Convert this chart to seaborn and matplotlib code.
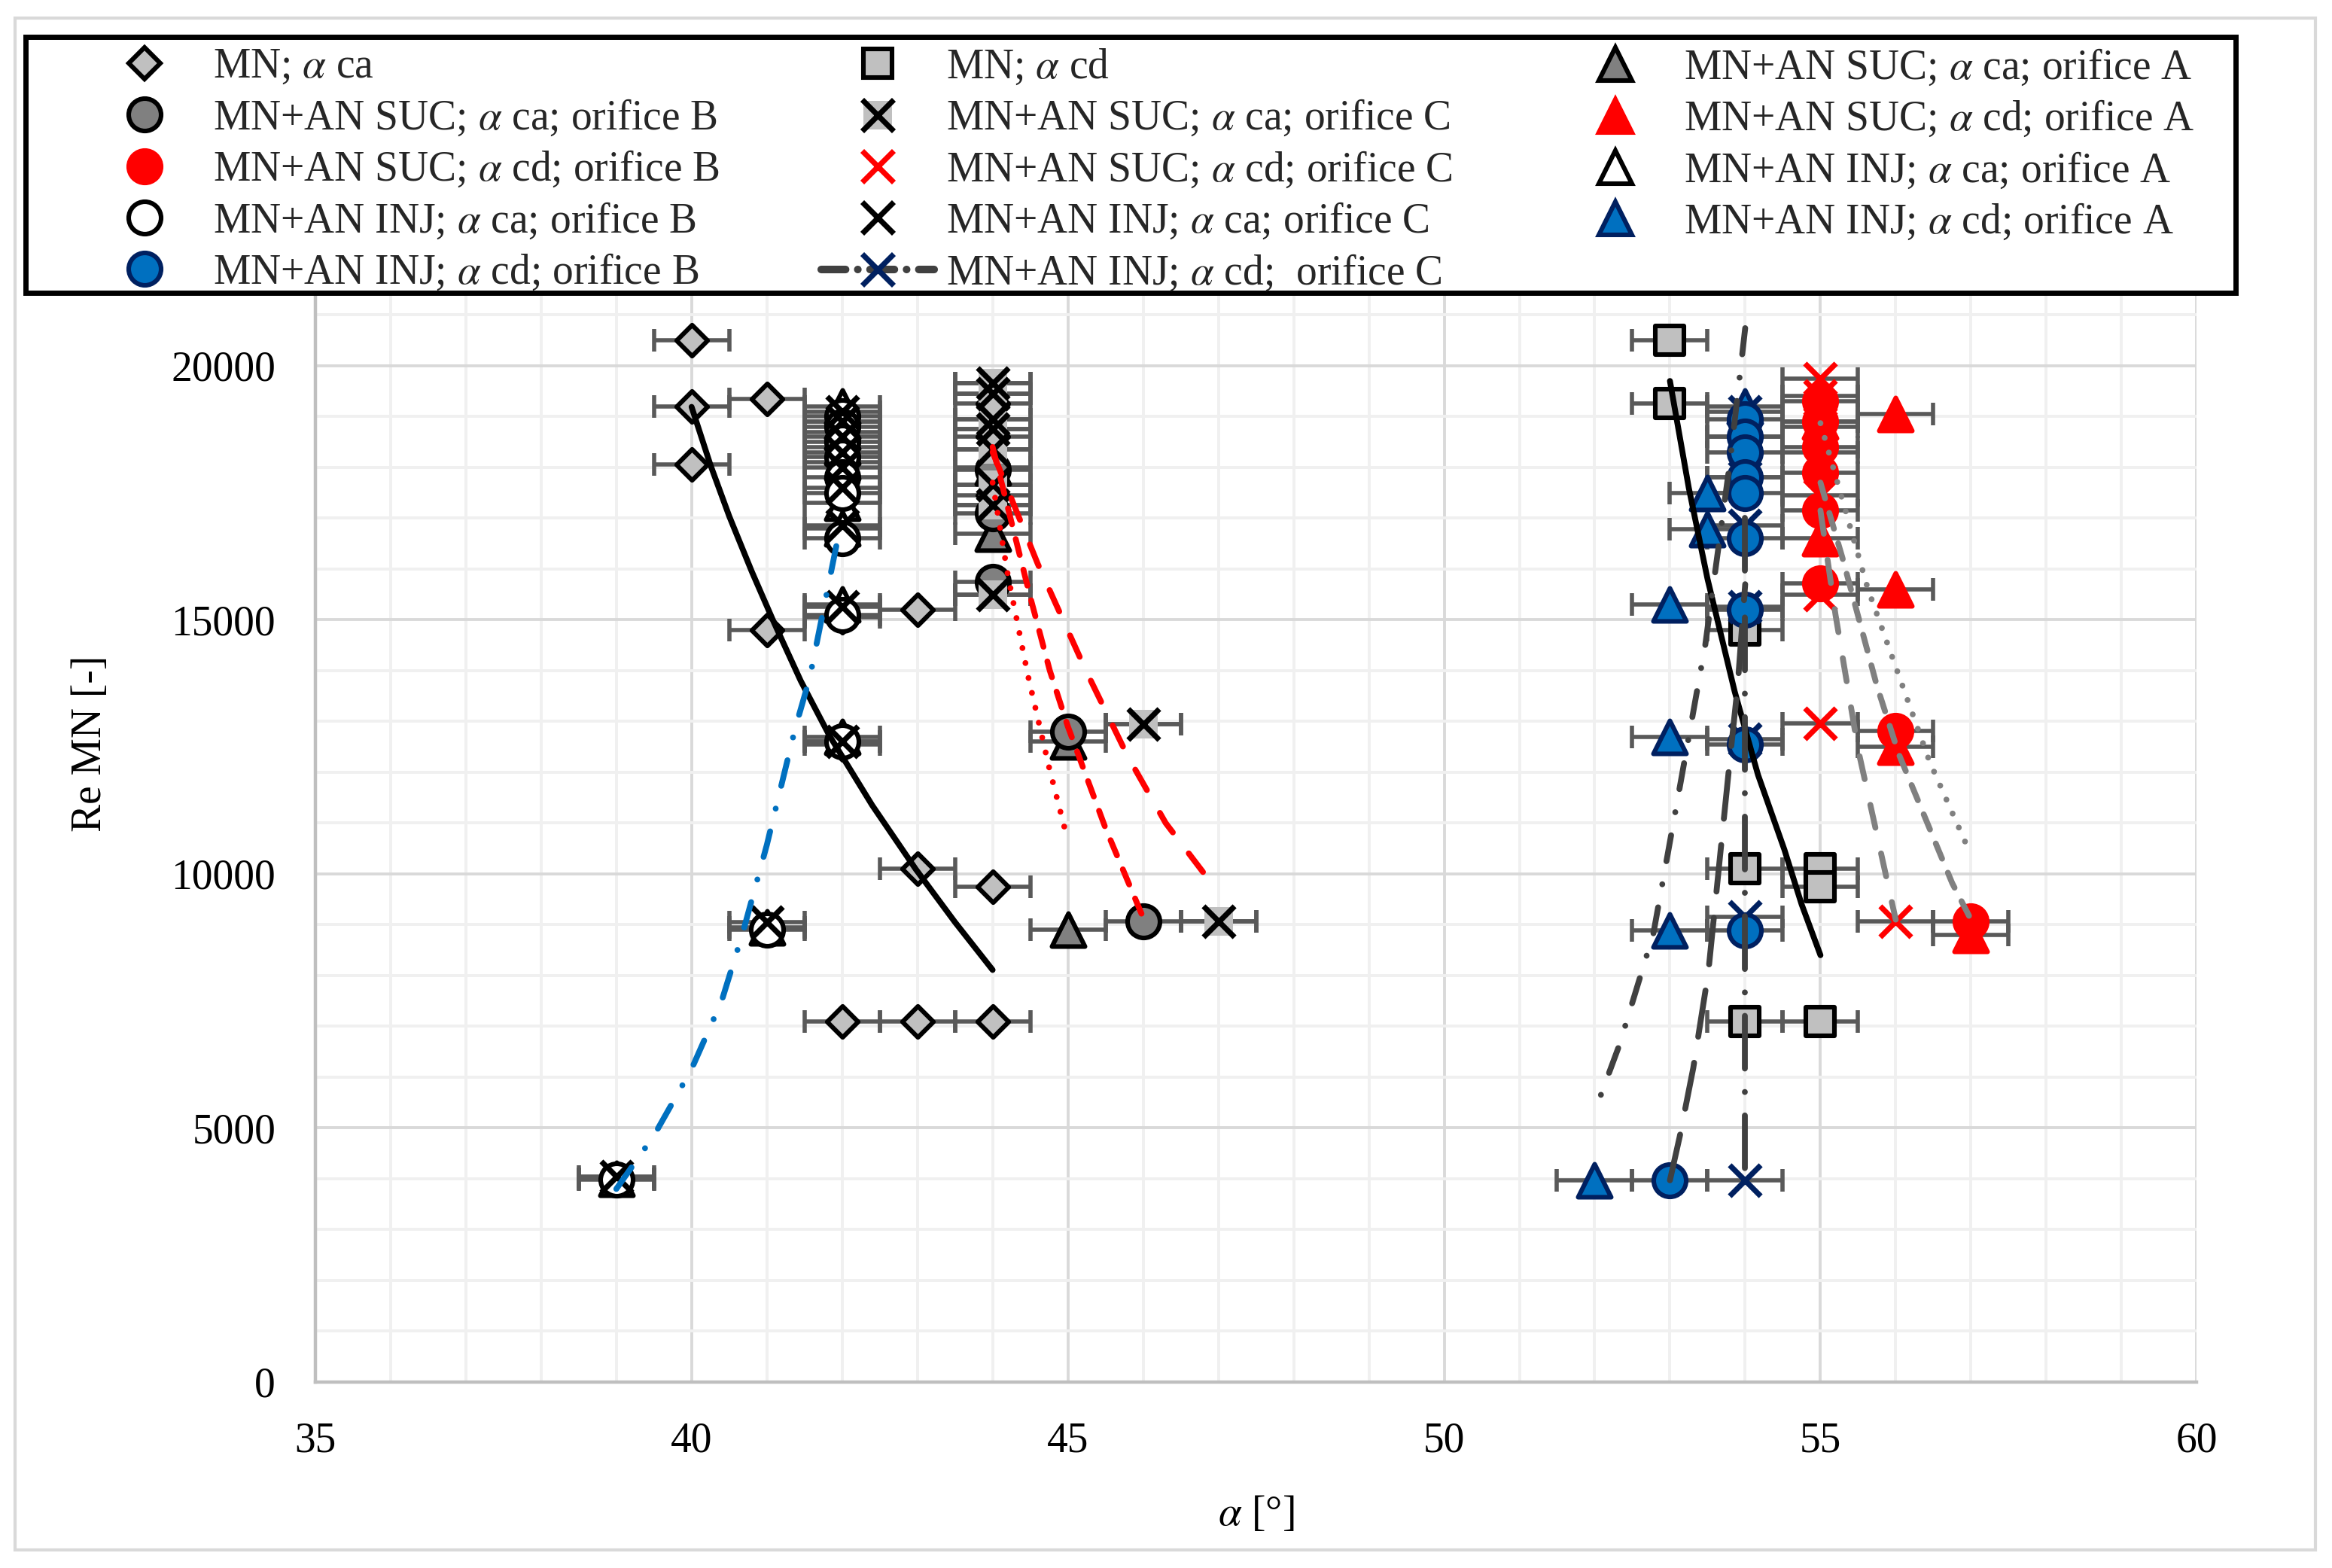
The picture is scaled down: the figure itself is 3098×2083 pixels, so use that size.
import numpy as np
import matplotlib
matplotlib.use("Agg")
import matplotlib.pyplot as plt
from matplotlib.lines import Line2D
from matplotlib.patches import Rectangle
import seaborn as sns

# ---- measured points (alpha [deg], Re MN [-]) ----
mn_ca_x = [40, 40, 41, 40, 41, 42, 43, 42, 43, 44, 42, 43, 44, 44, 44, 44]
mn_ca_y = [20500, 19200, 19350, 18050, 14800, 15050, 15200, 12550, 10100, 9750, 7100, 7100, 7100, 19250, 18600, 17450]

mn_cd_x = [53, 53, 54, 54, 55, 55, 54, 55]
mn_cd_y = [20500, 19250, 14800, 10100, 10100, 9750, 7100, 7100]

suc_ca_a_x = [44, 44, 45, 45]
suc_ca_a_y = [18000, 16700, 12600, 8900]
suc_ca_b_x = [44, 44, 44, 45, 46]
suc_ca_b_y = [17950, 17100, 15750, 12800, 9060]
suc_ca_c_x = [44, 44, 44, 44, 44, 44, 44, 44, 46, 47]
suc_ca_c_y = [19650, 19450, 18950, 18750, 18350, 17650, 17250, 15500, 12950, 9060]

suc_cd_a_x = [55, 55, 56, 56, 56, 57]
suc_cd_a_y = [18900, 16600, 19050, 15600, 12500, 8800]
suc_cd_b_x = [55, 55, 55, 55, 55, 55, 56, 57]
suc_cd_b_y = [19300, 18900, 18400, 17900, 17150, 15720, 12820, 9060]
suc_cd_c_x = [55, 55, 55, 55, 55, 55, 55, 56]
suc_cd_c_y = [19750, 19400, 18800, 18300, 17450, 15500, 12960, 9060]

inj_ca_a_x = [42, 42, 42, 42, 42, 42, 42, 42, 42, 41, 39]
inj_ca_a_y = [19200, 18900, 18700, 18400, 18100, 17300, 16800, 15300, 12700, 8950, 4000]
inj_ca_b_x = [42, 42, 42, 42, 42, 42, 42, 42, 42, 41, 39]
inj_ca_b_y = [19000, 18800, 18500, 18200, 17800, 17500, 16600, 15100, 12600, 8900, 3980]
inj_ca_c_x = [42, 42, 42, 42, 42, 42, 42, 42, 42, 41, 39]
inj_ca_c_y = [19100, 18900, 18600, 18300, 18000, 17600, 16850, 15250, 12600, 9050, 4050]

inj_cd_a_x = [54, 53.5, 53.5, 53, 53, 53, 52]
inj_cd_a_y = [19200, 17500, 16780, 15300, 12700, 8890, 3970]
inj_cd_b_x = [54, 54, 54, 54, 54, 54, 54, 54, 54, 53]
inj_cd_b_y = [18950, 18600, 18300, 17800, 17500, 16600, 15200, 12550, 8890, 3970]
inj_cd_c_x = [54, 54, 54, 54, 54, 54, 54, 54]
inj_cd_c_y = [19100, 18600, 17800, 16850, 15250, 12650, 9150, 3970]

# ---- trendlines ----
tr_mn_ca_x = [40.0, 40.25, 40.5, 40.8, 41.1, 41.45, 41.83, 42.4, 42.98, 43.5, 44.0]
tr_mn_ca_y = [19190, 18050, 17040, 15950, 14930, 13800, 12725, 11350, 10090, 9050, 8110]
tr_mn_cd_x = [53.0, 53.25, 53.5, 53.86, 54.17, 54.52, 54.75, 55.0]
tr_mn_cd_y = [19700, 17600, 15800, 13590, 11950, 10480, 9400, 8400]
tr_suc_ca_a_x = [44.0, 44.2, 44.47, 44.75, 45.0]
tr_suc_ca_a_y = [17700, 15900, 13900, 12100, 10650]
tr_suc_ca_b_x = [44.0, 44.5, 44.76, 45.0, 45.5, 46.0]
tr_suc_ca_b_y = [18400, 15450, 14000, 12900, 10900, 9140]
tr_suc_ca_c_x = [44.0, 44.6, 45.24, 45.8, 46.3, 46.85]
tr_suc_ca_c_y = [18300, 16100, 14000, 12300, 11000, 9930]
tr_inj_ca_b_x = [39.0, 39.5, 40.0, 40.4, 40.68, 41.0, 41.38, 41.57, 41.95]
tr_inj_ca_b_y = [3800, 4850, 6160, 7500, 8840, 10570, 12880, 13860, 16650]
tr_inj_cd_a_x = [54.0, 53.8, 53.47, 53.13, 52.78, 52.33, 52.0]
tr_inj_cd_a_y = [20740, 18130, 14510, 11700, 8825, 6640, 5320]
tr_inj_cd_b_x = [53.0, 53.13, 53.31, 53.51, 53.67, 53.8, 53.9, 54.0]
tr_inj_cd_b_y = [3970, 4830, 6180, 8060, 10410, 12300, 13700, 15700]
tr_inj_cd_c_x = [54.0, 54.0]
tr_inj_cd_c_y = [17000, 3970]
tr_suc_cd_a_x = [55.0, 55.63, 56.45, 56.95]
tr_suc_cd_a_y = [18870, 15610, 12210, 10540]
tr_suc_cd_b_x = [55.0, 55.29, 55.75, 56.04, 56.75, 57.0]
tr_suc_cd_b_y = [17700, 16230, 13700, 12360, 9820, 9100]
tr_suc_cd_c_x = [55.0, 55.2, 55.5, 56.0]
tr_suc_cd_c_y = [17150, 15100, 12450, 9100]

X_ERR = 0.5

sns.set_theme(style="white")
plt.rcParams['font.family'] = ['Liberation Serif', 'DejaVu Serif']
plt.rcParams['mathtext.fontset'] = 'stix'
FS = 20

GRAY_L = '#c0c0c0'
GRAY_M = '#808080'
RED = '#ff0000'
BLUE = '#0070c0'
NAVY = '#002060'
DARK = '#404040'

# marker sizes (points^2) and edge widths
S_D, S_SQ, S_O, S_TRI, S_X = 110, 190, 240, 250, 220
EW, XW = 2.2, 2.6

fig = plt.figure(figsize=(15.49, 10.415), dpi=200)
ax = fig.add_axes([0.1352, 0.1186, 0.8068, 0.6945])

ax.set_xlim(35, 60)
ax.set_ylim(0, 21430)
ax.set_xticks([35, 40, 45, 50, 55, 60])
ax.set_xticks(np.arange(35, 60.5, 1), minor=True)
ax.set_yticks([0, 5000, 10000, 15000, 20000])
ax.set_yticks(np.arange(0, 21430, 1000), minor=True)
ax.grid(True, which='minor', color='#f0f0f0', lw=1.4)
ax.grid(True, which='major', color='#d9d9d9', lw=1.4)
ax.set_axisbelow(True)
for s in ['top', 'right']:
    ax.spines[s].set_visible(False)
for s in ['left', 'bottom']:
    ax.spines[s].set_color('#bfbfbf')
    ax.spines[s].set_linewidth(1.6)
ax.tick_params(which='major', length=7, width=1.5, color='#bfbfbf', labelsize=FS,
               labelcolor='black', pad=12)
ax.tick_params(which='minor', length=0)

# (x, y, marker, size, face, edge, lw)
series = [
    (mn_ca_x, mn_ca_y, 'D', S_D, GRAY_L, 'black', EW),
    (mn_cd_x, mn_cd_y, 's', S_SQ, GRAY_L, 'black', EW),
    (inj_cd_c_x, inj_cd_c_y, 'x', S_X, NAVY, NAVY, XW),
    (inj_cd_a_x, inj_cd_a_y, '^', S_TRI, BLUE, NAVY, EW),
    (inj_cd_b_x, inj_cd_b_y, 'o', S_O, BLUE, NAVY, EW),
    (suc_ca_a_x, suc_ca_a_y, '^', S_TRI, GRAY_M, 'black', EW),
    (suc_ca_b_x, suc_ca_b_y, 'o', S_O, GRAY_M, 'black', EW),
    (suc_ca_c_x, suc_ca_c_y, 's', S_SQ, GRAY_L, GRAY_L, 0),
    (suc_ca_c_x, suc_ca_c_y, 'x', S_X, 'black', 'black', XW),
    (suc_cd_a_x, suc_cd_a_y, '^', S_TRI, RED, RED, EW),
    (suc_cd_b_x, suc_cd_b_y, 'o', S_O, RED, RED, EW),
    (suc_cd_c_x, suc_cd_c_y, 'x', S_X, RED, RED, XW),
    (inj_ca_a_x, inj_ca_a_y, '^', S_TRI, 'white', 'black', EW),
    (inj_ca_b_x, inj_ca_b_y, 'o', S_O, 'white', 'black', EW),
    (inj_ca_c_x, inj_ca_c_y, 'x', S_X, 'black', 'black', XW),
]

# horizontal error bars first, under every marker
for x, y, *_ in series:
    ax.errorbar(x, y, xerr=X_ERR, fmt='none', ecolor='#595959', elinewidth=2.0,
                capsize=5.5, capthick=2.0, zorder=2)

for i, (x, y, m, s, fc, ec, lw) in enumerate(series):
    if m == 'x':
        sns.scatterplot(x=x, y=y, ax=ax, marker=m, s=s, color=fc, linewidth=lw,
                        legend=False, zorder=3 + i * 0.01)
    else:
        sns.scatterplot(x=x, y=y, ax=ax, marker=m, s=s, color=fc, edgecolor=ec,
                        linewidth=lw, legend=False, zorder=3 + i * 0.01)

DOT = (0, (0.01, 2.6))
DASH = (0, (2.8, 2.6))
LDASH = (0, (4.0, 4.5))
DASHDOT = (0, (4.5, 4, 0.01, 4))
LDASHDOT = (0, (9, 4, 0.01, 4))
TLW = 2.8

trends = [
    (tr_mn_ca_x, tr_mn_ca_y, 'black', '-'),
    (tr_mn_cd_x, tr_mn_cd_y, 'black', '-'),
    (tr_suc_ca_a_x, tr_suc_ca_a_y, RED, DOT),
    (tr_suc_ca_b_x, tr_suc_ca_b_y, RED, DASH),
    (tr_suc_ca_c_x, tr_suc_ca_c_y, RED, LDASH),
    (tr_inj_ca_b_x, tr_inj_ca_b_y, BLUE, DASHDOT),
    (tr_inj_cd_a_x, tr_inj_cd_a_y, DARK, DASHDOT),
    (tr_inj_cd_b_x, tr_inj_cd_b_y, DARK, (0, (8, 4.5))),
    (tr_inj_cd_c_x, tr_inj_cd_c_y, DARK, LDASHDOT),
    (tr_suc_cd_a_x, tr_suc_cd_a_y, GRAY_M, DOT),
    (tr_suc_cd_b_x, tr_suc_cd_b_y, GRAY_M, DASH),
    (tr_suc_cd_c_x, tr_suc_cd_c_y, GRAY_M, LDASH),
]
for x, y, c, ls in trends:
    ax.plot(x, y, color=c, lw=TLW, ls=ls, dash_capstyle='round',
            solid_capstyle='round', solid_joinstyle='round', zorder=6)

ax.set_xlabel(r'$\alpha$ [°]', fontsize=FS, color='black')
ax.set_ylabel('Re MN [-]', fontsize=FS, color='black')
ax.xaxis.set_label_coords(0.5, -0.104)
ax.yaxis.set_label_coords(-0.109, 0.586)


# ---- legend ----
def mk(m, s, fc, ec, lw):
    return Line2D([], [], ls='none', marker=m, ms=np.sqrt(s), mfc=fc, mec=ec, mew=lw)


col1 = [
    (mk('D', S_D, GRAY_L, 'black', EW), r'MN; $\alpha$ ca'),
    (mk('o', S_O, GRAY_M, 'black', EW), r'MN+AN SUC; $\alpha$ ca; orifice B'),
    (mk('o', S_O, RED, RED, EW), r'MN+AN SUC; $\alpha$ cd; orifice B'),
    (mk('o', S_O, 'white', 'black', EW), r'MN+AN INJ; $\alpha$ ca; orifice B'),
    (mk('o', S_O, BLUE, NAVY, EW), r'MN+AN INJ; $\alpha$ cd; orifice B'),
]
col2 = [
    (mk('s', S_SQ, GRAY_L, 'black', EW), r'MN; $\alpha$ cd'),
    ((mk('s', S_SQ, GRAY_L, GRAY_L, 0), mk('x', S_X, 'black', 'black', XW)),
     r'MN+AN SUC; $\alpha$ ca; orifice C'),
    (mk('x', S_X, RED, RED, XW), r'MN+AN SUC; $\alpha$ cd; orifice C'),
    (mk('x', S_X, 'black', 'black', XW), r'MN+AN INJ; $\alpha$ ca; orifice C'),
    (Line2D([], [], color=DARK, lw=TLW * 1.3, ls=(0, (3.2, 1.6, 0.01, 1.6)),
            dash_capstyle='round', marker='x', ms=np.sqrt(S_X), mec=NAVY, mew=XW),
     r'MN+AN INJ; $\alpha$ cd;  orifice C'),
]
col3 = [
    (mk('^', S_TRI, GRAY_M, 'black', EW), r'MN+AN SUC; $\alpha$ ca; orifice A'),
    (mk('^', S_TRI, RED, RED, EW), r'MN+AN SUC; $\alpha$ cd; orifice A'),
    (mk('^', S_TRI, 'white', 'black', EW), r'MN+AN INJ; $\alpha$ ca; orifice A'),
    (mk('^', S_TRI, BLUE, NAVY, EW), r'MN+AN INJ; $\alpha$ cd; orifice A'),
]

fig.add_artist(Rectangle((0.01084, 0.8131), 0.9477, 0.1632, transform=fig.transFigure,
                         facecolor='white', edgecolor='black', lw=2.5, zorder=1))
for cx, col in zip([59 / 1568, 552 / 1568, 1048 / 1568], [col1, col2, col3]):
    fig.legend([h for h, _ in col], [t for _, t in col], loc='upper left',
               bbox_to_anchor=(cx, 0.9697), frameon=False, borderpad=0,
               borderaxespad=0, handlelength=2.7, handletextpad=0.3,
               labelspacing=0.27, fontsize=FS)

# light chart-area border
fig.add_artist(Rectangle((10 / 1568, 1 - 1042 / 1054), 1547 / 1568, 1030 / 1054,
                         transform=fig.transFigure, fill=False,
                         edgecolor='#d9d9d9', lw=1.5))

fig.savefig('out.png', dpi=200)
